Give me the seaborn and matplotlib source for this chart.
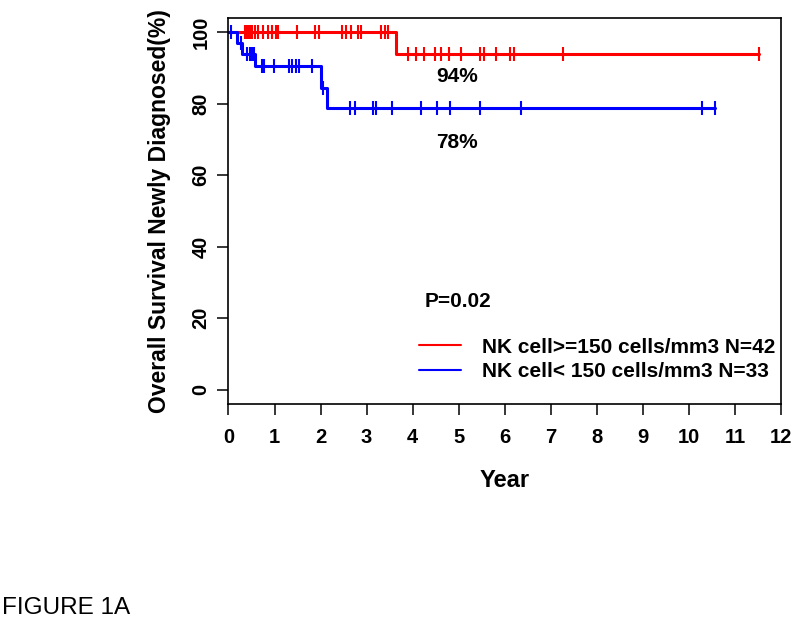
import numpy as np
import pandas as pd
import matplotlib
matplotlib.use("Agg")
import matplotlib.pyplot as plt
import seaborn as sns
from matplotlib.lines import Line2D

# =============================================================================
# Data (Kaplan-Meier curves)
# =============================================================================

# NK cell >= 150 cells/mm3 (red)
high_step_time = [0.0, 3.64]
high_step_surv = [100.0, 94.0]
high_censor = [0.36, 0.40, 0.43, 0.46, 0.49, 0.52, 0.57, 0.65, 0.75, 0.85, 0.95,
               1.03, 1.07, 1.49, 1.88, 1.97, 2.46, 2.56, 2.67, 2.81, 2.88, 3.32,
               3.39, 3.47, 3.90, 4.08, 4.25, 4.48, 4.62, 4.80, 5.04, 5.47, 5.56,
               5.82, 6.11, 6.20, 7.27, 11.52]

# NK cell < 150 cells/mm3 (blue)
low_step_time = [0.0, 0.18, 0.29, 0.57, 2.00, 2.14]
low_step_surv = [100.0, 97.0, 93.9, 90.5, 84.5, 78.7]
low_censor = [0.06, 0.27, 0.40, 0.46, 0.51, 0.56, 0.72, 0.78, 0.99, 1.32, 1.39,
              1.47, 1.54, 1.81, 2.05, 2.64, 2.75, 3.14, 3.20, 3.56, 4.18, 4.53,
              4.81, 5.46, 6.36, 10.28, 10.57]

labels = ['NK cell>=150 cells/mm3 N=42', 'NK cell< 150 cells/mm3 N=33']
colors = ['#ff0000', '#0000ff']
final_text = ['94%', '78%']
p_text = 'P=0.02'


def km_frames(step_time, step_surv, censor):
    end = max(max(censor), step_time[-1])
    line = pd.DataFrame({'time': step_time + [end],
                         'surv': step_surv + [step_surv[-1]]})
    idx = np.searchsorted(step_time, censor, side='right') - 1
    marks = pd.DataFrame({'time': censor,
                          'surv': np.array(step_surv)[idx]})
    return line, marks


high_line, high_marks = km_frames(high_step_time, high_step_surv, high_censor)
low_line, low_marks = km_frames(low_step_time, low_step_surv, low_censor)

# =============================================================================
# Plot
# =============================================================================

sns.set_theme(style='ticks')
plt.rcParams['font.family'] = ['Liberation Sans', 'DejaVu Sans']
plt.rcParams['font.weight'] = 'bold'
plt.rcParams['text.color'] = 'black'
plt.rcParams['axes.labelcolor'] = 'black'

fig = plt.figure(figsize=(8, 6.44), dpi=100)
ax = fig.add_axes([0.2856, 0.3727, 0.6906, 0.5994])

for line, marks, col in [(high_line, high_marks, colors[0]),
                         (low_line, low_marks, colors[1])]:
    sns.lineplot(data=line, x='time', y='surv', ax=ax, color=col,
                 drawstyle='steps-post', linewidth=2.2, estimator=None,
                 sort=False)
    sns.scatterplot(data=marks, x='time', y='surv', ax=ax, color=col,
                    marker='|', s=95, linewidth=1.5, zorder=3)

ax.set_xlim(0, 12)
ax.set_ylim(-4, 104)
ax.set_xticks(range(0, 13))
ax.set_yticks(range(0, 101, 20))
ax.tick_params(axis='both', labelsize=14.5, length=8, width=1.1, colors='black')
ax.tick_params(axis='x', pad=9)
ax.tick_params(axis='y', pad=5)
for lab in ax.get_yticklabels():
    lab.set_rotation(90)
    lab.set_va('center')
for lab in ax.get_xticklabels() + ax.get_yticklabels():
    lab.set_fontweight('bold')
for sp in ax.spines.values():
    sp.set_linewidth(1.2)
    sp.set_color('black')

ax.set_xlabel('Year', fontsize=17, fontweight='bold', labelpad=16)
ax.set_ylabel('Overall Survival Newly Diagnosed(%)', fontsize=16.5,
              fontweight='bold', labelpad=15)

ax.text(4.97, 87.5, final_text[0], fontsize=15, fontweight='bold',
        ha='center', va='center')
ax.text(4.97, 69.2, final_text[1], fontsize=15, fontweight='bold',
        ha='center', va='center')
ax.text(4.27, 24.6, p_text, fontsize=15, fontweight='bold',
        ha='left', va='center')

handles = [Line2D([], [], color=c, linewidth=1.5) for c in colors]
ax.legend(handles, labels, loc='upper left', bbox_to_anchor=(0.345, 0.172),
          frameon=False, prop={'size': 15, 'weight': 'bold'},
          handlelength=2.0, handletextpad=1.0, labelspacing=0.25,
          borderpad=0, borderaxespad=0)

fig.text(0.003, 0.047, 'FIGURE 1A', fontsize=17.5, fontweight='normal',
         ha='left', va='baseline')

fig.savefig('out.png', dpi=100, facecolor='white')
